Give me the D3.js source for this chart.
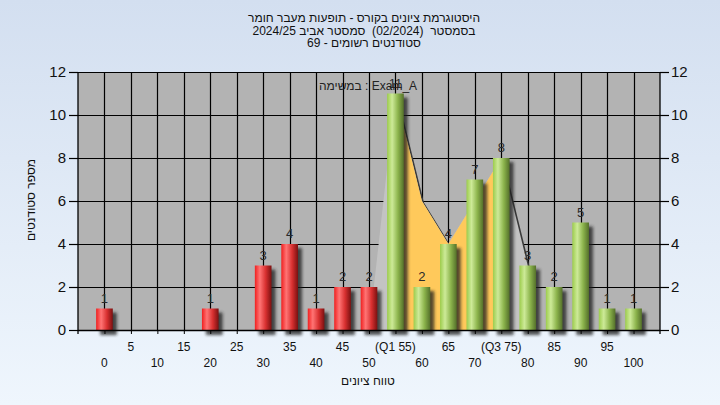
<!DOCTYPE html>
<html><head><meta charset="utf-8">
<script src="https://cdn.jsdelivr.net/npm/d3@7"></script>
<style>
body{margin:0;background:#fff;}
svg{display:block;font-family:"Liberation Sans",Arial,sans-serif;}
</style>
</head><body>
<svg id="c" width="720" height="405"></svg>
<script>
// ---- data ----
const grades = [0,5,10,15,20,25,30,35,40,45,50,55,60,65,70,75,80,85,90,95,100];
const counts = [1,0,0,0,1,0,3,4,1,2,2,11,2,4,7,8,3,2,5,1,1];
const passMark = 55;
const q1 = 55, q3 = 75;
const curveGrades = [50,55,60,65,70,75,80];
const curveValues = [0,11,6,4,6,8,3];
const yTicks = [0,2,4,6,8,10,12];
const titleLines = [
  "היסטוגרמת ציונים בקורס - תופעות מעבר חומר",
  "בסמסטר  (02/2024)  סמסטר אביב 2024/25",
  "סטודנטים רשומים - 69"
];
const examLabel = "Exam_A : במשימה";
const xTitle = "טווח ציונים";
const yTitle = "מספר סטודנטים";

// ---- layout ----
const W = 720, H = 405;
const L = 78, R = 660, T = 72, B = 330;
const step = grades[1] - grades[0];
const svg = d3.select("#c");
const defs = svg.append("defs");

// background gradient
const bg = defs.append("linearGradient").attr("id","bg").attr("x1",0).attr("y1",0).attr("x2",0).attr("y2",1);
bg.append("stop").attr("offset","0%").attr("stop-color","#d3dff0");
bg.append("stop").attr("offset","100%").attr("stop-color","#eff6fd");
svg.append("rect").attr("width",W).attr("height",H).attr("fill","url(#bg)");

function barGrad(id, c0, c1, c2, c3){
  const g = defs.append("linearGradient").attr("id",id).attr("x1",0).attr("y1",0).attr("x2",1).attr("y2",0);
  g.append("stop").attr("offset","0%").attr("stop-color",c0);
  g.append("stop").attr("offset","30%").attr("stop-color",c1);
  g.append("stop").attr("offset","65%").attr("stop-color",c2);
  g.append("stop").attr("offset","100%").attr("stop-color",c3);
}
barGrad("red","#f02020","#ff7474","#d83030","#7a1010");
barGrad("green","#9ccc4c","#cdea98","#8cb44c","#54702a");

const sh = defs.append("filter").attr("id","sh").attr("x","-50%").attr("y","-50%").attr("width","200%").attr("height","200%");
sh.append("feGaussianBlur").attr("stdDeviation",1.8);

defs.append("clipPath").attr("id","plot").append("rect").attr("x",L).attr("y",T).attr("width",R-L).attr("height",B-T);
const x = d3.scaleLinear().domain([grades[0]-step, grades[grades.length-1]+step]).range([L,R]);
const y = d3.scaleLinear().domain([0, d3.max(yTicks)]).range([B,T]);
defs.append("clipPath").attr("id","iqr").append("rect").attr("x",x(q1)).attr("y",T).attr("width",x(q3)-x(q1)).attr("height",B-T);

// plot background
svg.append("rect").attr("x",L).attr("y",T).attr("width",R-L).attr("height",B-T).attr("fill","#b3b3b3");

// grid
const grid = svg.append("g").attr("stroke","#000").attr("stroke-width",1.2);
grid.selectAll(".h").data(yTicks.filter(d=>d>0)).join("line")
  .attr("x1",L).attr("x2",R).attr("y1",d=>Math.round(y(d))+0.5).attr("y2",d=>Math.round(y(d))+0.5);
grid.selectAll(".v").data(grades).join("line")
  .attr("y1",T).attr("y2",B).attr("x1",d=>Math.round(x(d))+0.5).attr("x2",d=>Math.round(x(d))+0.5);

// distribution curve area
const area = d3.area().x((d,i)=>x(curveGrades[i])).y0(B).y1(d=>y(d));
const ag = svg.append("g").attr("clip-path","url(#plot)");
ag.append("path").attr("d",area(curveValues)).attr("fill","#3a3a3a").attr("transform","translate(2,1.5)");
ag.append("path").attr("d",area(curveValues)).attr("fill","#c3c3c3");
ag.append("g").attr("clip-path","url(#iqr)").append("path").attr("d",area(curveValues)).attr("fill","#ffc95b");

// bars
const bw = (x(step)-x(0))*0.63;
const bars = grades.map((g,i)=>({g, v:counts[i]})).filter(d=>d.v>0);
const bg2 = svg.append("g");
bg2.selectAll(".s").data(bars).join("rect")
  .attr("x",d=>x(d.g)-bw/2+4).attr("y",d=>y(d.v)+4).attr("width",bw).attr("height",d=>B-y(d.v)+1)
  .attr("fill","#1e1e1e").attr("opacity",0.75).attr("filter","url(#sh)");
bg2.selectAll(".b").data(bars).join("rect")
  .attr("x",d=>x(d.g)-bw/2).attr("y",d=>y(d.v)).attr("width",bw).attr("height",d=>B-y(d.v))
  .attr("fill",d=>d.g<passMark?"url(#red)":"url(#green)");

// axes
const fmt = d3.format("d");
const ya = svg.append("g").attr("transform",`translate(${L},0)`)
  .call(d3.axisLeft(y).tickValues(yTicks).tickSize(9).tickPadding(3).tickFormat(fmt));
const yr = svg.append("g").attr("transform",`translate(${R},0)`)
  .call(d3.axisRight(y).tickValues(yTicks).tickSize(9).tickPadding(2).tickFormat(fmt));
const xa = svg.append("g").attr("transform",`translate(0,${B})`)
  .call(d3.axisBottom(x).tickValues(grades).tickSize(4).tickFormat(""));
[ya,yr].forEach(a=>{
  a.select(".domain").attr("d",`M0,${T}V${B+4}`).attr("stroke","#000").attr("stroke-width",1.3);
  a.selectAll(".tick line").attr("stroke","#000").attr("stroke-width",1.2);
  a.selectAll("text").attr("font-size",15).attr("fill","#111").attr("font-family","'Liberation Sans',Arial,sans-serif");
});
xa.select(".domain").attr("d",`M${L},0.5H${R}`).attr("stroke","#000").attr("stroke-width",1.3);
xa.selectAll(".tick line").attr("stroke","#000");

// x labels in two rows
const lab = g => g===q1 ? `(Q1 ${g})` : g===q3 ? `(Q3 ${g})` : String(g);
svg.append("g").selectAll("text").data(grades).join("text")
  .attr("x",d=>x(d)).attr("y",(d,i)=> i%2 ? 351 : 367)
  .attr("text-anchor","middle").attr("font-size",12).attr("fill","#111").text(lab);

// data labels
svg.append("g").selectAll("text").data(bars).join("text")
  .attr("x",d=>x(d.g)).attr("y",d=>y(d.v)-6)
  .attr("text-anchor","middle").attr("font-size",13).attr("fill","#2a2a2a").text(d=>d.v);

// exam label
svg.append("text").attr("x",368).attr("y",90).attr("text-anchor","middle").attr("direction","rtl")
  .attr("font-size",12).attr("fill","#222").text(examLabel);

// titles
svg.append("g").selectAll("text").data(titleLines).join("text")
  .attr("x",364).attr("y",(d,i)=>22+i*12.5).attr("text-anchor","middle").attr("direction","rtl")
  .style("white-space","pre")
  .attr("font-size",12).attr("fill","#111").text(d=>d);

svg.append("text").attr("x",368).attr("y",385).attr("text-anchor","middle").attr("direction","rtl")
  .attr("font-size",12).attr("fill","#111").text(xTitle);
svg.append("text").attr("transform","translate(35,200) rotate(-90)").attr("text-anchor","middle").attr("direction","rtl")
  .attr("font-size",12).attr("fill","#111").text(yTitle);
</script>
</body></html>
